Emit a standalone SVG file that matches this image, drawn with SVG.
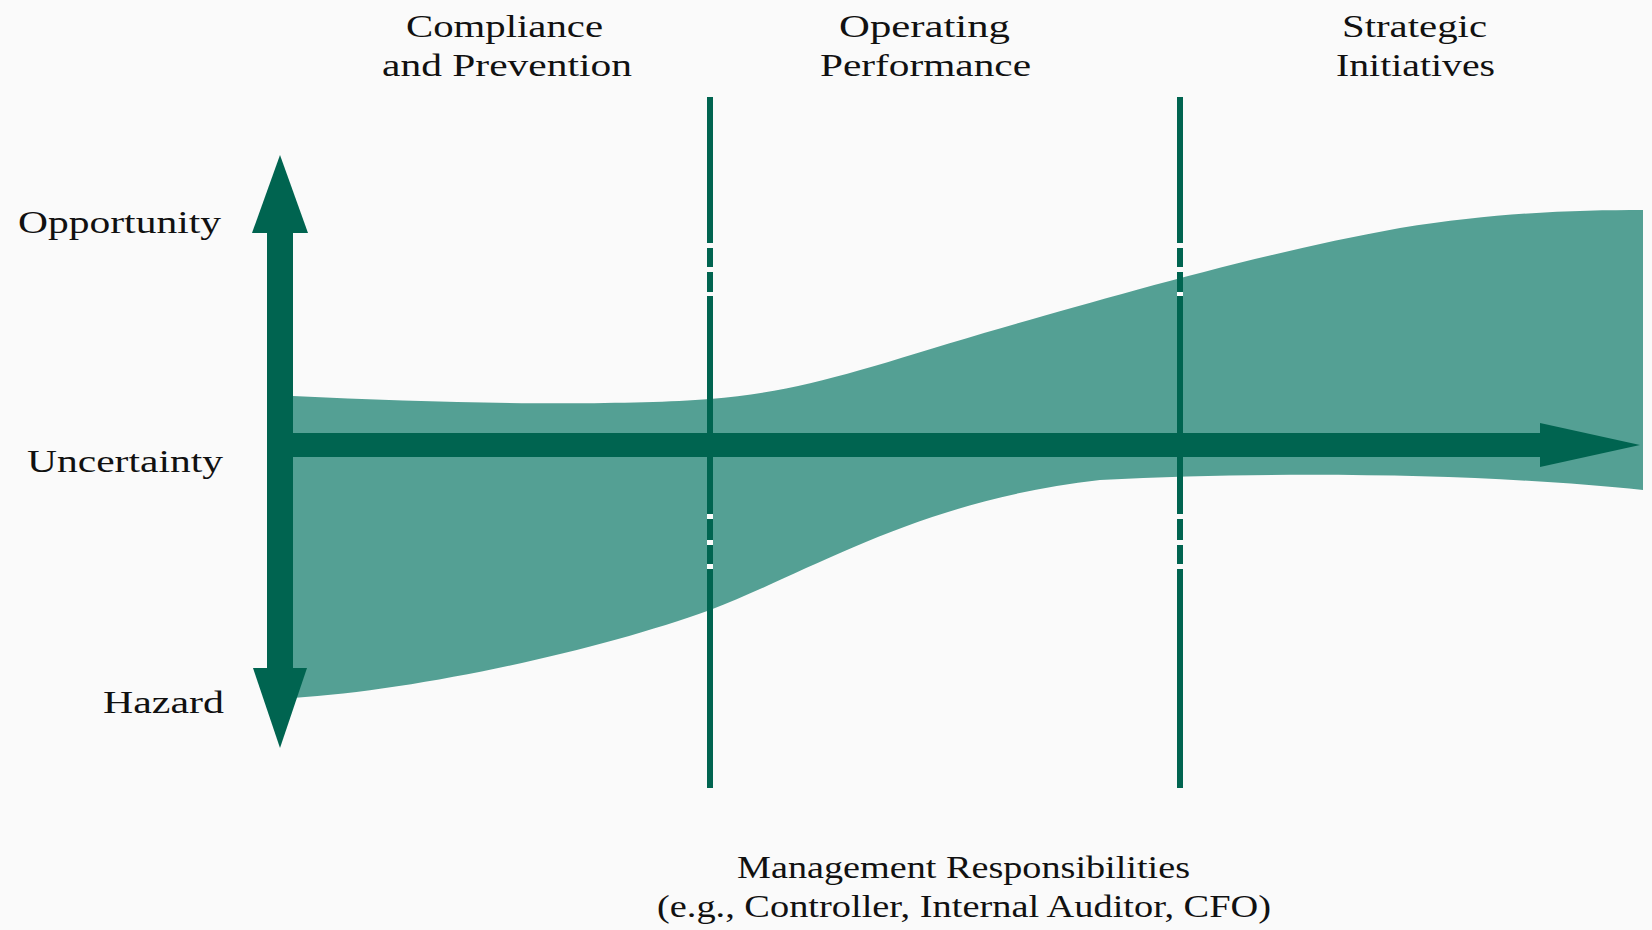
<svg xmlns="http://www.w3.org/2000/svg" width="1652" height="930" viewBox="0 0 1652 930">
<style>
.lbl{font-family:"Liberation Serif","Times New Roman",serif;font-size:32px;fill:#111;}
.dark{fill:#006450;}
.vline{stroke:#006450;stroke-width:6;fill:none;stroke-dasharray:146 5 19 5 20 4 218 5 21 5 19 5 219;}
.vgap{stroke:#FAFAFA;stroke-width:6;fill:none;}
</style>
<rect width="1652" height="930" fill="#FAFAFA"/>
<g id="band">
<path d="M280,396 L293,396 C450,404 620,406 710,399 C800,392 860,370 984,333 C1100,300 1250,255 1400,228 C1500,212 1580,210 1643,210 L1643,490 C1500,475 1300,470 1100,480 C920,500 810,572 710,610 C600,650 420,690 293,698 L280,698 Z" fill="#54A094"/>
</g>
<g id="dividers">
<line class="vgap" x1="710" y1="97" x2="710" y2="788"/>
<line class="vline" x1="710" y1="97" x2="710" y2="788"/>
<line class="vgap" x1="1180" y1="97" x2="1180" y2="788"/>
<line class="vline" x1="1180" y1="97" x2="1180" y2="788"/>
</g>
<g id="connectors">
<g id="vertical-arrow">
<rect class="dark" x="267" y="228" width="26" height="444"/>
<polygon class="dark" points="280,155 308,233 252,233"/>
<polygon class="dark" points="253,668 307,668 280,748"/>
</g>
<g id="horizontal-arrow">
<rect class="dark" x="267" y="433" width="1280" height="24"/>
<polygon class="dark" points="1540,423 1640,445 1540,467"/>
</g>
</g>
<g id="column-headers">
<text class="lbl" x="406" y="37" textLength="197" lengthAdjust="spacingAndGlyphs">Compliance</text>
<text class="lbl" x="382" y="76" textLength="250" lengthAdjust="spacingAndGlyphs">and Prevention</text>
<text class="lbl" x="839" y="37" textLength="171" lengthAdjust="spacingAndGlyphs">Operating</text>
<text class="lbl" x="820" y="76" textLength="211" lengthAdjust="spacingAndGlyphs">Performance</text>
<text class="lbl" x="1342" y="37" textLength="145" lengthAdjust="spacingAndGlyphs">Strategic</text>
<text class="lbl" x="1336" y="76" textLength="159" lengthAdjust="spacingAndGlyphs">Initiatives</text>
</g>
<g id="axis-labels">
<text class="lbl" x="18" y="233" textLength="203" lengthAdjust="spacingAndGlyphs">Opportunity</text>
<text class="lbl" x="27" y="472" textLength="196" lengthAdjust="spacingAndGlyphs">Uncertainty</text>
<text class="lbl" x="103" y="713" textLength="121" lengthAdjust="spacingAndGlyphs">Hazard</text>
</g>
<g id="footer">
<text class="lbl" x="737" y="878" textLength="453" lengthAdjust="spacingAndGlyphs">Management Responsibilities</text>
<text class="lbl" x="657" y="917" textLength="614" lengthAdjust="spacingAndGlyphs">(e.g., Controller, Internal Auditor, CFO)</text>
</g>
</svg>
